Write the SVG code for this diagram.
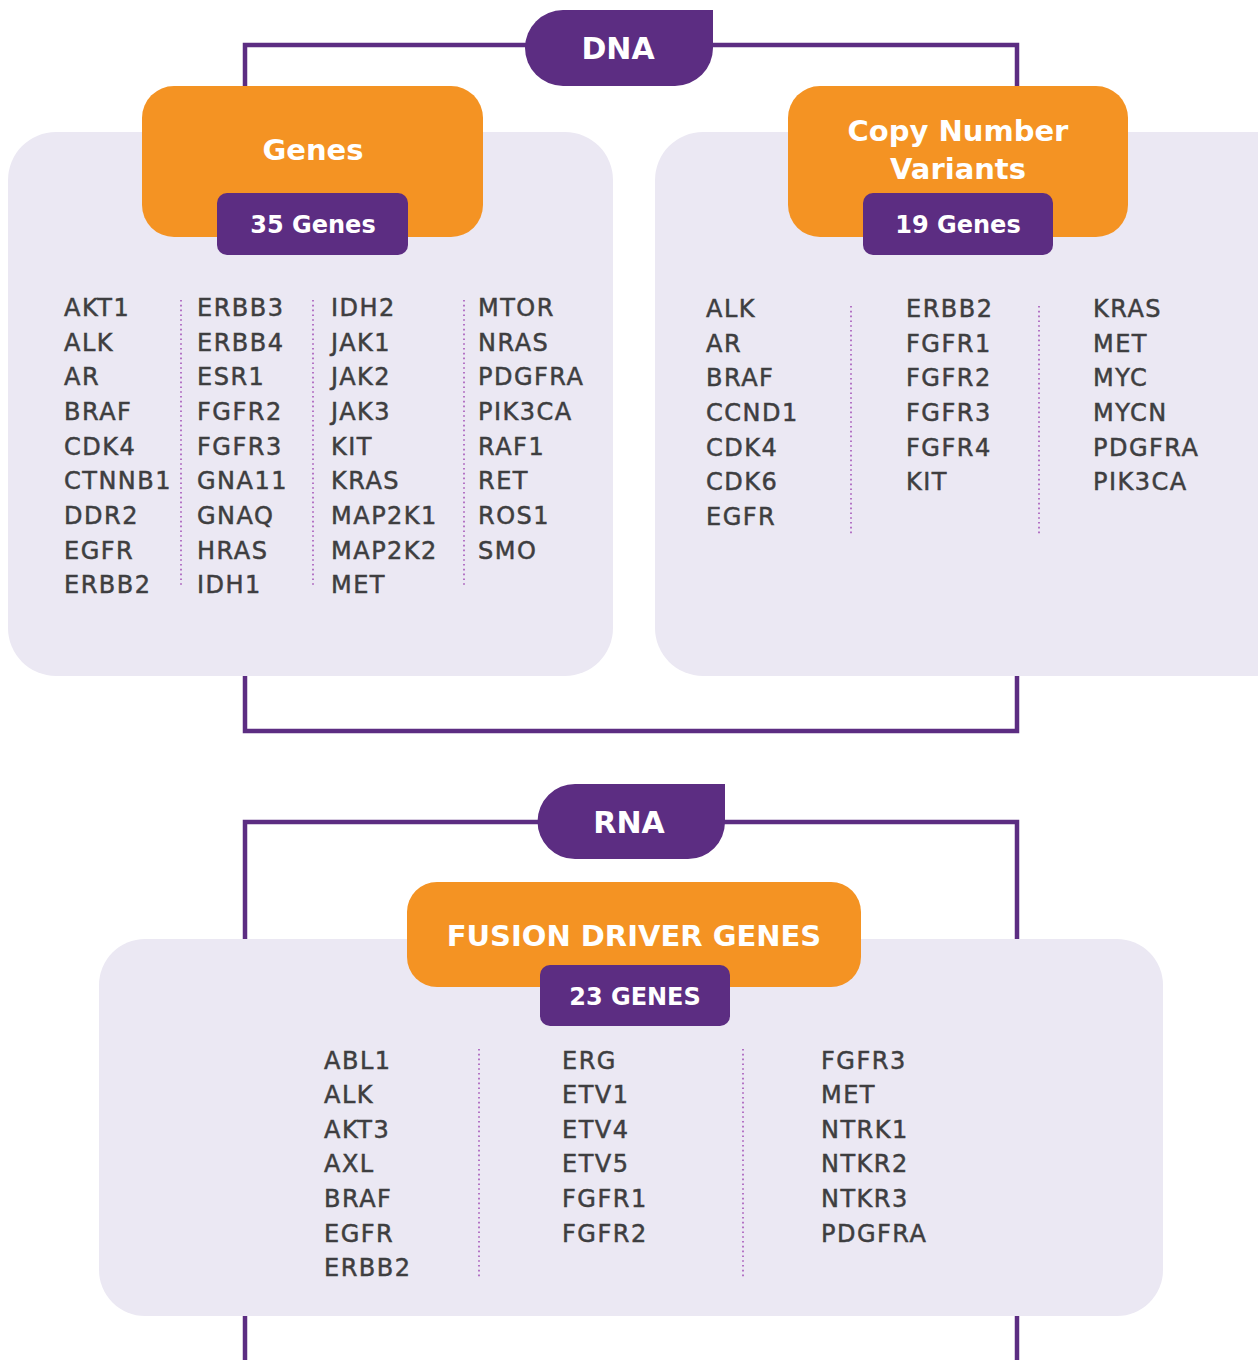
<svg xmlns="http://www.w3.org/2000/svg" width="1258" height="1360" viewBox="0 0 1258 1360">
<style>
.panel{fill:#ebe8f3}
.orange{fill:#f49323}
.purple{fill:#5c2d82}
.conn{fill:none;stroke:#5c2d82;stroke-width:4.5}
.dot{stroke:#a555b8;stroke-width:1.6;stroke-dasharray:1.6 3.2}
.hdr{font-family:"DejaVu Sans",sans-serif;font-weight:bold;fill:#fff;text-anchor:middle}
.gene{font-family:"DejaVu Sans",sans-serif;font-size:24px;fill:#3e3e40;stroke:#3e3e40;stroke-width:0.5;letter-spacing:1.5px}
</style>
<rect width="1258" height="1360" fill="#fff"/>
<g id="connectors">
<polyline class="conn" points="245,90 245,45 1017,45 1017,90"/>
<polyline class="conn" points="245,674 245,731 1017,731 1017,674"/>
<polyline class="conn" points="245,942 245,822 1017,822 1017,942"/>
<line class="conn" x1="245" y1="1314" x2="245" y2="1360"/>
<line class="conn" x1="1017" y1="1314" x2="1017" y2="1360"/>
</g>
<g id="dna">
<path class="purple" d="M563,10 L713,10 L713,48 A38,38 0 0 1 675,86 L563,86 A38,38 0 0 1 563,10 Z"/>
<text class="hdr" x="618" y="59" font-size="30">DNA</text>
</g>
<g id="genes">
<rect class="panel" x="8" y="132" width="605" height="544" rx="48"/>
<rect class="orange" x="142" y="86" width="341" height="151" rx="32"/>
<text class="hdr" x="313" y="160" font-size="29">Genes</text>
<rect class="purple" x="217" y="193" width="191" height="62" rx="10"/>
<text class="hdr" x="313" y="233" font-size="24">35 Genes</text>
<line class="dot" x1="181" y1="300" x2="181" y2="587"/>
<line class="dot" x1="313" y1="300" x2="313" y2="587"/>
<line class="dot" x1="464" y1="300" x2="464" y2="587"/>
<text class="gene"><tspan x="64" y="316">AKT1</tspan><tspan x="64" y="351">ALK</tspan><tspan x="64" y="385">AR</tspan><tspan x="64" y="420">BRAF</tspan><tspan x="64" y="455">CDK4</tspan><tspan x="64" y="489">CTNNB1</tspan><tspan x="64" y="524">DDR2</tspan><tspan x="64" y="559">EGFR</tspan><tspan x="64" y="593">ERBB2</tspan></text>
<text class="gene"><tspan x="197" y="316">ERBB3</tspan><tspan x="197" y="351">ERBB4</tspan><tspan x="197" y="385">ESR1</tspan><tspan x="197" y="420">FGFR2</tspan><tspan x="197" y="455">FGFR3</tspan><tspan x="197" y="489">GNA11</tspan><tspan x="197" y="524">GNAQ</tspan><tspan x="197" y="559">HRAS</tspan><tspan x="197" y="593">IDH1</tspan></text>
<text class="gene"><tspan x="331" y="316">IDH2</tspan><tspan x="331" y="351">JAK1</tspan><tspan x="331" y="385">JAK2</tspan><tspan x="331" y="420">JAK3</tspan><tspan x="331" y="455">KIT</tspan><tspan x="331" y="489">KRAS</tspan><tspan x="331" y="524">MAP2K1</tspan><tspan x="331" y="559">MAP2K2</tspan><tspan x="331" y="593">MET</tspan></text>
<text class="gene"><tspan x="478" y="316">MTOR</tspan><tspan x="478" y="351">NRAS</tspan><tspan x="478" y="385">PDGFRA</tspan><tspan x="478" y="420">PIK3CA</tspan><tspan x="478" y="455">RAF1</tspan><tspan x="478" y="489">RET</tspan><tspan x="478" y="524">ROS1</tspan><tspan x="478" y="559">SMO</tspan></text>
</g>
<g id="cnv">
<rect class="panel" x="655" y="132" width="660" height="544" rx="48"/>
<rect class="orange" x="788" y="86" width="340" height="151" rx="32"/>
<text class="hdr" font-size="29"><tspan x="958" y="141">Copy Number</tspan><tspan x="958" y="179">Variants</tspan></text>
<rect class="purple" x="863" y="193" width="190" height="62" rx="10"/>
<text class="hdr" x="958" y="233" font-size="24">19 Genes</text>
<line class="dot" x1="851" y1="306" x2="851" y2="534"/>
<line class="dot" x1="1039" y1="306" x2="1039" y2="534"/>
<text class="gene"><tspan x="706" y="317">ALK</tspan><tspan x="706" y="352">AR</tspan><tspan x="706" y="386">BRAF</tspan><tspan x="706" y="421">CCND1</tspan><tspan x="706" y="456">CDK4</tspan><tspan x="706" y="490">CDK6</tspan><tspan x="706" y="525">EGFR</tspan></text>
<text class="gene"><tspan x="906" y="317">ERBB2</tspan><tspan x="906" y="352">FGFR1</tspan><tspan x="906" y="386">FGFR2</tspan><tspan x="906" y="421">FGFR3</tspan><tspan x="906" y="456">FGFR4</tspan><tspan x="906" y="490">KIT</tspan></text>
<text class="gene"><tspan x="1093" y="317">KRAS</tspan><tspan x="1093" y="352">MET</tspan><tspan x="1093" y="386">MYC</tspan><tspan x="1093" y="421">MYCN</tspan><tspan x="1093" y="456">PDGFRA</tspan><tspan x="1093" y="490">PIK3CA</tspan></text>
</g>
<g id="rna">
<path class="purple" d="M575,784 L725,784 L725,822 A37,37 0 0 1 688,859 L575,859 A37.5,37.5 0 0 1 575,784 Z"/>
<text class="hdr" x="629" y="833" font-size="30">RNA</text>
</g>
<g id="fusion">
<rect class="panel" x="99" y="939" width="1064" height="377" rx="46"/>
<rect class="orange" x="407" y="882" width="454" height="105" rx="30"/>
<text class="hdr" x="634" y="946" font-size="29">FUSION DRIVER GENES</text>
<rect class="purple" x="540" y="965" width="190" height="61" rx="10"/>
<text class="hdr" x="635" y="1005" font-size="24">23 GENES</text>
<line class="dot" x1="479" y1="1049" x2="479" y2="1277"/>
<line class="dot" x1="743" y1="1049" x2="743" y2="1277"/>
<text class="gene"><tspan x="324" y="1069">ABL1</tspan><tspan x="324" y="1103">ALK</tspan><tspan x="324" y="1138">AKT3</tspan><tspan x="324" y="1172">AXL</tspan><tspan x="324" y="1207">BRAF</tspan><tspan x="324" y="1242">EGFR</tspan><tspan x="324" y="1276">ERBB2</tspan></text>
<text class="gene"><tspan x="562" y="1069">ERG</tspan><tspan x="562" y="1103">ETV1</tspan><tspan x="562" y="1138">ETV4</tspan><tspan x="562" y="1172">ETV5</tspan><tspan x="562" y="1207">FGFR1</tspan><tspan x="562" y="1242">FGFR2</tspan></text>
<text class="gene"><tspan x="821" y="1069">FGFR3</tspan><tspan x="821" y="1103">MET</tspan><tspan x="821" y="1138">NTRK1</tspan><tspan x="821" y="1172">NTKR2</tspan><tspan x="821" y="1207">NTKR3</tspan><tspan x="821" y="1242">PDGFRA</tspan></text>
</g>
</svg>
